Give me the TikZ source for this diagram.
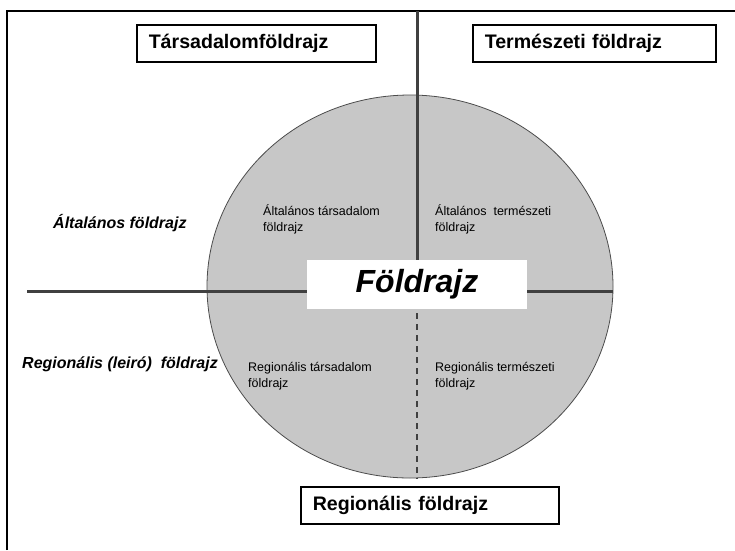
\documentclass[tikz,border=0pt]{standalone}
\usepackage{fontspec}
\setmainfont{Liberation Sans}
\usetikzlibrary{shapes.geometric}
\begin{document}
\begin{tikzpicture}[x=1pt,y=-1pt,
  frameline/.style={line width=2.5pt,black},
  axisline/.style={line width=3pt,draw=black!75},
  dashline/.style={line width=2pt,draw=black!75,dash pattern=on 6pt off 5pt},
  titlebox/.style={draw=black,line width=1.5pt,fill=white,anchor=north west,
    minimum height=37pt,inner xsep=12pt,align=left,
    font=\fontsize{19.6}{22}\selectfont\bfseries},
  sidelabel/.style={anchor=base west,inner sep=0pt,font=\fontsize{16}{19}\selectfont\bfseries\itshape},
  quadlabel/.style={anchor=base west,inner sep=0pt,align=left,font=\fontsize{12.5}{16}\selectfont}]
\useasboundingbox (0,0) rectangle (735,550);
\fill[white] (0,0) rectangle (735,550);
% frame
\draw[frameline] (7,550) -- (7,11) -- (735,11);
% circle
\node[ellipse,draw=black!70,line width=0.8pt,fill=black!22,minimum width=406pt,minimum height=383pt,inner sep=0pt] (geo) at (410,286.5) {};
% central box
\node[fill=white,minimum width=220pt,minimum height=49pt,inner sep=0pt] (fold) at (417,284.5)
  {\fontsize{32}{36}\selectfont\bfseries\itshape Földrajz};
\coordinate (top) at (417,11);
\coordinate (left) at (27,291);
\coordinate (bot) at (417,479);
\draw[axisline] (top) -- (fold.north);
\draw[axisline] (left) -- (fold.west |- left);
\draw[axisline] (fold.east |- left) -- (geo.east |- left);
\draw[dashline] (417,313) -- (bot);
% boxes
\node[titlebox,text width=215pt] (tars) at (136,24) {Társadalomföldrajz};
\node[titlebox,text width=219pt] (term) at (472,24) {Természeti földrajz};
\node[titlebox,text width=234pt] (reg) at (300,486) {Regionális földrajz};
% side labels
\node[sidelabel] (alt) at (53,228) {Általános földrajz};
\node[sidelabel] (regl) at (22,368) {Regionális (leiró)\ \ földrajz};
% quadrant labels
\node[quadlabel] (q1) at (263,231) {Általános társadalom\\földrajz};
\node[quadlabel] (q2) at (435,231) {Általános\ \ természeti\\földrajz};
\node[quadlabel] (q3) at (248,387) {Regionális társadalom\\földrajz};
\node[quadlabel] (q4) at (435,387) {Regionális természeti\\földrajz};
\end{tikzpicture}
\end{document}
